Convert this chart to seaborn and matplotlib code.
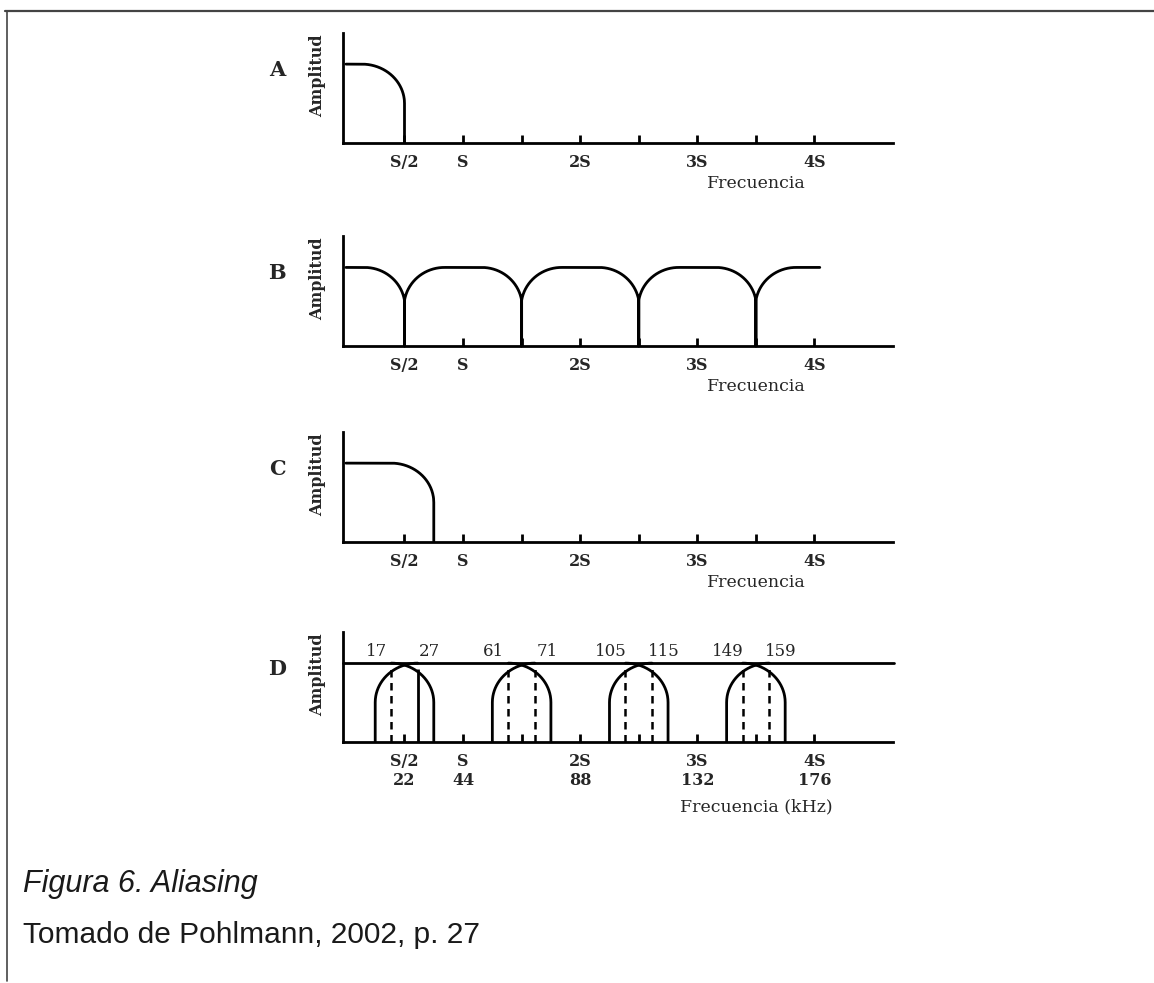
import numpy as np
import pandas as pd
import matplotlib
matplotlib.use("Agg")
import matplotlib.pyplot as plt
import seaborn as sns
from matplotlib.lines import Line2D

# Datos del esquema (frecuencias en kHz, S = 44 kHz)
S = 44
ticks = [22, 44, 66, 88, 110, 132, 154, 176]
ticks_sym = ["S/2", "S", "", "2S", "", "3S", "", "4S"]
ticks_khz = ["22", "44", "", "88", "", "132", "", "176"]
x_min, x_max = -1.1, 205.5

# A: espectro limitado a S/2
a_flat, a_cut = 6, 22
# B: espectro muestreado (imágenes en 0, S, 2S...)
b_centros = [0, 44, 88, 132, 176]
b_flat, b_cut, b_fin = 7, 22.2, 178
# C: espectro que pasa de S/2
c_flat, c_cut = 17, 33
# D: imágenes y alias
d_centros_der = [0, 44, 88, 132]
d_centros_izq = [44, 88, 132, 176]
d_flat, d_cut = 17, 33
alias = [17, 61, 105, 149]
senal = [27, 71, 115, 159]
lineas_solidas = [27]
lineas_punteadas = [17, 61, 71, 105, 115, 149, 159]

sns.set_style("white")
plt.rcParams["font.family"] = ["DejaVu Serif"]


def lobulo(x, c, flat, cut):
    # cima plana y caída en cuarto de círculo hasta media amplitud
    d = np.abs(np.asarray(x) - c)
    r = np.clip((d - flat) / (cut - flat), 0, 1)
    return np.where(d <= flat, 1.0, 0.5 + 0.5 * np.sqrt(1 - r ** 2))


def segmentos_a():
    x = np.linspace(0, a_cut, 400)
    y = lobulo(x, 0, a_flat, a_cut)
    return [(np.append(x, a_cut), np.append(y, 0))]


def segmentos_b():
    xs, ys = [], []
    for c in b_centros:
        lo, hi = max(c - 22, 0), min(c + 22, b_fin)
        x = np.linspace(lo, hi, 400)
        y = lobulo(x, c, b_flat, b_cut)
        xs += list(x)
        ys += list(y)
        if hi < b_fin:
            xs += [hi, hi]
            ys += [0, y[-1]]
    return [(np.array(xs), np.array(ys))]


def segmentos_c():
    x = np.linspace(0, c_cut, 400)
    y = lobulo(x, 0, c_flat, c_cut)
    return [(np.append(x, c_cut), np.append(y, 0))]


def segmentos_d():
    segs = [(np.array([x_min, 206]), np.array([1.0, 1.0]))]
    for c in d_centros_der:
        x = np.linspace(c + d_flat, c + d_cut, 300)
        y = lobulo(x, c, d_flat, d_cut)
        segs.append((np.append(x, c + d_cut), np.append(y, 0)))
    for c in d_centros_izq:
        x = np.linspace(c - d_flat, c - d_cut, 300)
        y = lobulo(x, c, d_flat, d_cut)
        segs.append((np.append(x, c - d_cut), np.append(y, 0)))
    return segs


def a_tabla(segs):
    filas = []
    for i, (x, y) in enumerate(segs):
        filas.append(pd.DataFrame({"x": x, "y": y, "seg": i}))
    return pd.concat(filas, ignore_index=True)


W, H = 1154, 983
fig = plt.figure(figsize=(W / 100, H / 100), dpi=100)

paneles = [
    ("A", 142.7, segmentos_a(), ticks_sym, "Frecuencia"),
    ("B", 346.0, segmentos_b(), ticks_sym, "Frecuencia"),
    ("C", 541.7, segmentos_c(), ticks_sym, "Frecuencia"),
    ("D", 741.7, segmentos_d(), [f"{s}\n{k}" if s else "" for s, k in zip(ticks_sym, ticks_khz)],
     "Frecuencia (kHz)"),
]

ax_left, ax_w, ax_h = 343, 550, 110
for letra, base, segs, etiquetas, xlabel in paneles:
    ax = fig.add_axes([ax_left / W, 1 - base / H, ax_w / W, ax_h / H])
    df = a_tabla(segs)
    sns.lineplot(data=df, x="x", y="y", units="seg", estimator=None, sort=False,
                 color="black", lw=2, ax=ax, clip_on=False)
    ax.set_xlim(x_min, x_max)
    ax.set_ylim(0, 1.4)
    for s in ["top", "right"]:
        ax.spines[s].set_visible(False)
    for s in ["left", "bottom"]:
        ax.spines[s].set_linewidth(2)
        ax.spines[s].set_color("black")
    ax.set_yticks([])
    ax.set_xticks(ticks)
    ax.set_xticklabels(etiquetas, fontsize=11.5, fontweight="bold")
    for t in ax.get_xticklabels():
        t.set_linespacing(1.15)
    ax.tick_params(axis="x", bottom=True, direction="in", length=6, width=2, pad=8,
                   color="black")
    ax.set_xlabel("")
    ax.set_ylabel("")

    ax.text(-0.12, 0.66, letra, transform=ax.transAxes, ha="center", va="center",
            fontsize=15, fontweight="bold")
    ax.text(-0.047, 0.61, "Amplitud", transform=ax.transAxes, rotation=90,
            ha="center", va="center", fontsize=11.5, fontweight="bold")
    y_lab = -0.59 if letra == "D" else -0.37
    ax.text(0.752, y_lab, xlabel, transform=ax.transAxes, ha="center", va="center",
            fontsize=12.5)

    if letra == "D":
        ax.vlines(lineas_solidas, 0, 0.93, colors="black", lw=2)
        ax.vlines(lineas_punteadas, 0, 0.93, colors="black", lw=1.8,
                  linestyles=(0, (3, 2.2)))
        for f in alias:
            ax.text(f - 5.5, 1.15, str(f), ha="center", va="center", fontsize=12)
        for f in senal:
            ax.text(f + 4.5, 1.15, str(f), ha="center", va="center", fontsize=12)

# marco del recorte
fig.add_artist(Line2D([5 / W, 1], [1 - 10.5 / H] * 2, transform=fig.transFigure,
                      color="#444444", lw=1.6))
fig.add_artist(Line2D([6.5 / W] * 2, [1 - 10.5 / H, 0.002], transform=fig.transFigure,
                      color="#444444", lw=1.2))

fig.text(23 / W, 1 - 892 / H, "Figura 6. Aliasing", ha="left", va="baseline",
         fontsize=22, style="italic", family=["Liberation Sans", "DejaVu Sans"], color="#1a1a1a")
fig.text(23 / W, 1 - 943 / H, "Tomado de Pohlmann, 2002, p. 27", ha="left", va="baseline",
         fontsize=21.5, family=["Liberation Sans", "DejaVu Sans"], color="#1a1a1a")

fig.savefig("out.png", dpi=100, facecolor="white")
